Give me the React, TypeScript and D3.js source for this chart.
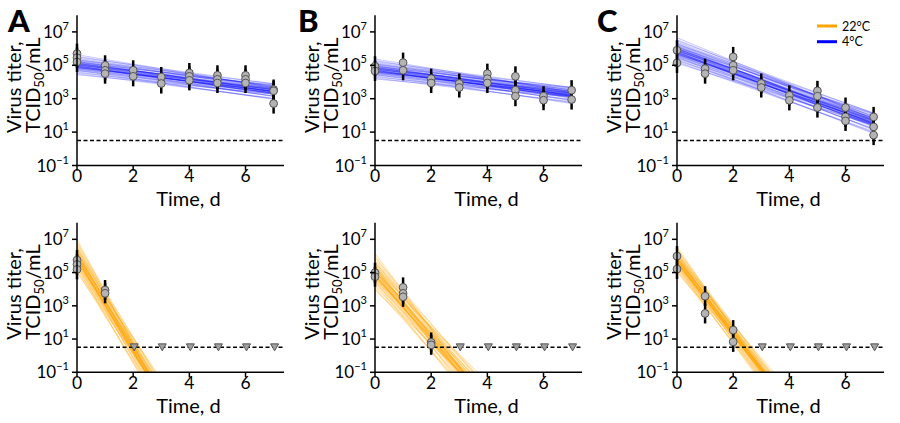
import React from 'react';
import * as d3 from 'd3';

// ---------- data ----------
const panelLetters = ['A', 'B', 'C'];
const legendLabels = ['22°C', '4°C'];
const xTicks = [0, 2, 4, 6];
const yTickExps = [-1, 1, 3, 5, 7];

// observed log10 titers (TCID50/mL) by day, 4°C
const titers4C_A = [[5.70, 5.46, 5.20], [5.00, 4.70, 4.50], [4.70, 4.34], [4.30, 3.91], [4.54, 4.34, 4.10], [4.40, 4.16, 3.94], [4.40, 4.16, 3.94], [3.55, 3.47, 2.71]];
const titers4C_B = [[4.94, 4.66], [5.16, 4.70], [4.20, 3.94], [3.91, 3.67], [4.50, 4.20, 3.94], [4.34, 3.51, 3.15], [3.15, 2.91], [3.51, 2.95]];
const titers4C_C = [[5.90, 5.14], [4.80, 4.50], [5.50, 5.00, 4.70], [3.91, 3.67], [3.20, 2.90], [3.47, 3.15, 2.47], [2.47, 1.91, 1.67], [1.91, 1.31, 0.82]];
// observed log10 titers by day, 22°C
const titers22C_A = [[5.75, 5.49, 5.19], [3.95, 3.75]];
const titers22C_B = [[4.99, 4.75], [4.11, 3.75, 3.54], [0.80, 0.65]];
const titers22C_C = [[5.99, 5.21], [3.58, 2.54], [1.54, 0.83]];
// days below detection limit, 22°C
const belowLOD22C_A = [2, 3, 4, 5, 6, 7];
const belowLOD22C_B = [3, 4, 5, 6, 7];
const belowLOD22C_C = [3, 4, 5, 6, 7];
const LOD_LOG = 0.5;
const ERR_LOG = 0.6;

// fitted decay (log10 intercept, log10 slope per day) and spread of posterior draws
const fitIntercept4C = [5.0, 4.75, 5.85];
const fitSlope4C = [-0.22, -0.215, -0.61];
const fitSpread4C = [[0.3, 0.035], [0.3, 0.04], [0.38, 0.05]];
const fitIntercept22C = [5.95, 5.0, 5.75];
const fitSlope22C = [-2.78, -1.94, -2.2];
const fitSpread22C = [[0.5, 0.22], [0.55, 0.2], [0.38, 0.16]];
// standardized posterior draws (intercept, slope)
const drawDeviates = [
  [0.1, -0.3], [-0.8, 0.5], [1.2, -0.9], [-0.3, 0.2], [0.6, 0.7], [-1.5, 1.1], [0.9, -0.2], [-0.1, -1.2],
  [0.3, 0.4], [-0.6, -0.5], [1.8, -1.4], [-1.1, 0.9], [0.4, -0.7], [-0.4, 0.1], [0.0, 1.5], [0.7, 0.3],
  [-0.9, -0.1], [1.4, -0.6], [-1.9, 1.6], [0.2, -1.0], [-0.2, 0.6], [0.5, -0.4], [-0.7, 0.8], [1.0, 0.0],
  [-1.3, -0.3], [0.8, -1.1], [-0.5, 1.3], [0.25, 0.15], [-0.05, -0.6], [2.1, -1.7], [0.15, 0.05], [-0.25, -0.15],
  [0.45, -0.2], [-0.35, 0.35], [1.1, 0.4], [-1.0, -0.8], [0.05, 0.25], [-0.15, -0.35], [0.35, 0.1], [-0.45, 0.45],
  [1.6, -0.2], [-1.7, 0.3], [0.65, -0.85], [-0.55, 0.75],
];

const titers4C = [titers4C_A, titers4C_B, titers4C_C];
const titers22C = [titers22C_A, titers22C_B, titers22C_C];
const belowLOD22C = [belowLOD22C_A, belowLOD22C_B, belowLOD22C_C];

// ---------- layout ----------
const W = 900;
const H = 423;
const FONT = 'Lato, "Open Sans", sans-serif';
const BLUE = '#0000ff';
const ORANGE = '#ffa500';
const panelX0 = [77, 375, 677];
const axisW = 207;
const rowY = [
  { bottom: 165.5, top: 15.2 },
  { bottom: 372.3, top: 222.7 },
];

function YLabel({ x, yBottom }: { x: number; yBottom: number }) {
  return (
    <g fontFamily={FONT} fontSize={20} fill="#000">
      <text transform={`translate(${x - 56.5},${yBottom}) rotate(-90)`}>Virus titer,</text>
      <text transform={`translate(${x - 37.5},${yBottom}) rotate(-90)`}>
        TCID
        <tspan fontSize={13} dy={4}>50</tspan>
        <tspan dy={-4}>/mL</tspan>
      </text>
    </g>
  );
}

function Axes({ p, row }: { p: number; row: number }) {
  const x0 = panelX0[p];
  const { bottom, top } = rowY[row];
  const x = d3.scaleLinear().domain([0, 7.37]).range([x0, x0 + axisW]);
  const y = d3.scaleLog().domain([0.1, 1e8]).range([bottom, top]);
  const color = row === 0 ? BLUE : ORANGE;
  const a = row === 0 ? fitIntercept4C[p] : fitIntercept22C[p];
  const b = row === 0 ? fitSlope4C[p] : fitSlope22C[p];
  const [sa, sb] = row === 0 ? fitSpread4C[p] : fitSpread22C[p];
  const clipId = `clip-${p}-${row}`;
  const data = row === 0 ? titers4C[p] : titers22C[p];
  const pts: { t: number; v: number }[] = [];
  data.forEach((vals, t) => vals.forEach((v) => pts.push({ t, v })));
  const lod = row === 1 ? belowLOD22C[p] : [];
  const lodY = y(Math.pow(10, LOD_LOG));
  const line = d3.line<[number, number]>().x((d) => x(d[0])).y((d) => y(Math.pow(10, d[1])));
  const tEnd = 7;
  return (
    <g>
      <defs>
        <clipPath id={clipId}>
          <rect x={x0} y={top} width={axisW + 2} height={bottom - top} />
        </clipPath>
      </defs>
      <g clipPath={`url(#${clipId})`}>
        {drawDeviates.map((d, i) => {
          const ai = a + sa * d[0];
          const bi = b + sb * d[1];
          return (
            <path
              key={i}
              d={line([[0, ai], [tEnd, ai + bi * tEnd]]) || ''}
              stroke={color}
              strokeOpacity={row === 0 ? 0.22 : 0.28}
              strokeWidth={1.1}
              fill="none"
            />
          );
        })}
      </g>
      <line x1={x0} x2={x0 + axisW} y1={lodY} y2={lodY} stroke="#000" strokeWidth={1.5} strokeDasharray="4,2.5" />
      {pts.map((d, i) => (
        <line
          key={`e${i}`}
          x1={x(d.t)}
          x2={x(d.t)}
          y1={y(Math.pow(10, d.v + ERR_LOG))}
          y2={y(Math.pow(10, d.v - ERR_LOG))}
          stroke="#000"
          strokeWidth={2.5}
        />
      ))}
      {pts.map((d, i) => (
        <circle key={`c${i}`} cx={x(d.t)} cy={y(Math.pow(10, d.v))} r={3.9} fill="#b4b4b4" stroke="#555" strokeWidth={1} />
      ))}
      {lod.map((t) => {
        const cx = x(t) + 1;
        const cy = lodY;
        return (
          <path
            key={`t${t}`}
            d={`M${cx - 4},${cy - 3.5}L${cx + 4},${cy - 3.5}L${cx},${cy + 3.5}Z`}
            fill="#a0a0a0"
            stroke="#555"
            strokeWidth={1}
          />
        );
      })}
      {/* spines */}
      <line x1={x0} x2={x0} y1={top} y2={bottom} stroke="#000" strokeWidth={1.5} />
      <line x1={x0} x2={x0 + axisW} y1={bottom} y2={bottom} stroke="#000" strokeWidth={1.5} />
      {yTickExps.map((e) => {
        const ty = y(Math.pow(10, e));
        return (
          <g key={`y${e}`}>
            <line x1={x0 - 5} x2={x0} y1={ty} y2={ty} stroke="#000" strokeWidth={1.5} />
            <text x={x0 - 8} y={ty + 6} textAnchor="end" fontFamily={FONT} fontSize={17} fill="#000">
              10
              <tspan fontSize={11} dy={-8}>{e < 0 ? '\u2212' + Math.abs(e) : String(e)}</tspan>
            </text>
          </g>
        );
      })}
      {xTicks.map((t) => (
        <g key={`x${t}`}>
          <line x1={x(t)} x2={x(t)} y1={bottom} y2={bottom + 5} stroke="#000" strokeWidth={1.5} />
          <text x={x(t)} y={bottom + 16.5} textAnchor="middle" fontFamily={FONT} fontSize={17.5} fill="#000">
            {t}
          </text>
        </g>
      ))}
      <text x={x0 + 111.5} y={bottom + 40.5} textAnchor="middle" fontFamily={FONT} fontSize={20} fill="#000">
        Time, d
      </text>
      <YLabel x={x0} yBottom={bottom - 32.5} />
    </g>
  );
}

export default function App() {
  const letterX = [8, 298, 597];
  return (
    <svg width={W} height={H} viewBox={`0 0 ${W} ${H}`} style={{ display: 'block', position: 'absolute', left: 0, top: 0 }}>
      <rect width={W} height={H} fill="#fff" />
      {panelLetters.map((L, p) => (
        <g key={L}>
          <text x={letterX[p]} y={32} fontFamily={FONT} fontWeight={900} fontSize={31} fill="#000">
            {L}
          </text>
          <Axes p={p} row={0} />
          <Axes p={p} row={1} />
        </g>
      ))}
      {/* legend */}
      <g fontFamily={FONT} fontSize={12.5} fill="#000">
        <line x1={817} x2={837} y1={26} y2={26} stroke={ORANGE} strokeWidth={3} />
        <text x={842} y={30.5}>{legendLabels[0]}</text>
        <line x1={817} x2={837} y1={41.7} y2={41.7} stroke={BLUE} strokeWidth={3} />
        <text x={842} y={46}>{legendLabels[1]}</text>
      </g>
    </svg>
  );
}
